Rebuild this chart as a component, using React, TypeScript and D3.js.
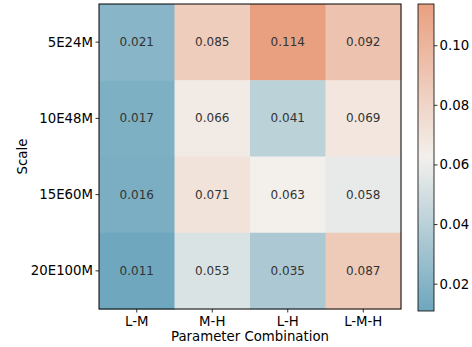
import React from "react";
import * as d3 from "d3";

const rows = ["5E24M", "10E48M", "15E60M", "20E100M"];
const cols = ["L-M", "M-H", "L-H", "L-M-H"];
const values = [
  [0.021, 0.085, 0.114, 0.092],
  [0.017, 0.066, 0.041, 0.069],
  [0.016, 0.071, 0.063, 0.058],
  [0.011, 0.053, 0.035, 0.087],
];
const cbTicks = [0.02, 0.04, 0.06, 0.08, 0.1];
const vmin = 0.011;
const vmax = 0.114;

export default function App() {
  const W = 472, H = 347;
  const left = 99, right = 401, top = 4, bottom = 309;
  const x = d3.scaleBand().domain(cols).range([left, right]);
  const y = d3.scaleBand().domain(rows).range([top, bottom]);
  const mid = (vmin + vmax) / 2;
  const color = d3
    .scaleLinear<string>()
    .domain([vmin, mid, vmax])
    .range(["#6ea7be", "#f3f0ec", "#e9a080"])
    .interpolate(d3.interpolateRgb);
  const cbX = 418, cbW = 16, cbTop = 4, cbBot = 311;
  const cy = d3.scaleLinear().domain([vmin, vmax]).range([cbBot, cbTop]);
  const font = "DejaVu Sans, sans-serif";
  const fs = 13.3;
  const stops = d3.range(0, 1.0001, 0.05);
  return (
    <svg width={W} height={H} style={{ position: "absolute", left: 0, top: 0 }} fontFamily={font}>
      <defs>
        <linearGradient id="cb" x1="0" y1="1" x2="0" y2="0">
          {stops.map((s) => (
            <stop key={s} offset={s} stopColor={color(vmin + s * (vmax - vmin))} />
          ))}
        </linearGradient>
      </defs>
      {values.map((row, i) =>
        row.map((v, j) => (
          <g key={`${i}-${j}`}>
            <rect
              x={x(cols[j])!}
              y={y(rows[i])!}
              width={x.bandwidth() + 0.5}
              height={y.bandwidth() + 0.5}
              fill={color(v)}
            />
            <text
              x={x(cols[j])! + x.bandwidth() / 2}
              y={y(rows[i])! + y.bandwidth() / 2}
              textAnchor="middle"
              dominantBaseline="central"
              fontSize={12}
              fill="#333"
            >
              {v.toFixed(3)}
            </text>
          </g>
        ))
      )}
      <rect x={left} y={top} width={right - left} height={bottom - top} fill="none" stroke="#000" strokeWidth={1} />
      {rows.map((r) => {
        const yy = y(r)! + y.bandwidth() / 2;
        return (
          <g key={r}>
            <line x1={left - 3.5} x2={left} y1={yy} y2={yy} stroke="#000" strokeWidth={0.8} />
            <text x={left - 6} y={yy} textAnchor="end" dominantBaseline="central" fontSize={fs} fill="#000">
              {r}
            </text>
          </g>
        );
      })}
      {cols.map((c) => {
        const xx = x(c)! + x.bandwidth() / 2;
        return (
          <g key={c}>
            <line x1={xx} x2={xx} y1={bottom} y2={bottom + 3.5} stroke="#000" strokeWidth={0.8} />
            <text x={xx} y={bottom + 16.5} textAnchor="middle" fontSize={fs} fill="#000">
              {c}
            </text>
          </g>
        );
      })}
      <text x={(left + right) / 2} y={341} textAnchor="middle" fontSize={fs} fill="#000">
        Parameter Combination
      </text>
      <text
        transform={`translate(27,${(top + bottom) / 2}) rotate(-90)`}
        textAnchor="middle"
        fontSize={fs}
        fill="#000"
      >
        Scale
      </text>
      <rect x={cbX} y={cbTop} width={cbW} height={cbBot - cbTop} fill="url(#cb)" stroke="#000" strokeWidth={0.8} />
      {cbTicks.map((t) => (
        <g key={t}>
          <line x1={cbX + cbW} x2={cbX + cbW + 3.5} y1={cy(t)} y2={cy(t)} stroke="#000" strokeWidth={0.8} />
          <text x={cbX + cbW + 5.5} y={cy(t)} dominantBaseline="central" fontSize={fs} fill="#000">
            {t.toFixed(2)}
          </text>
        </g>
      ))}
    </svg>
  );
}
